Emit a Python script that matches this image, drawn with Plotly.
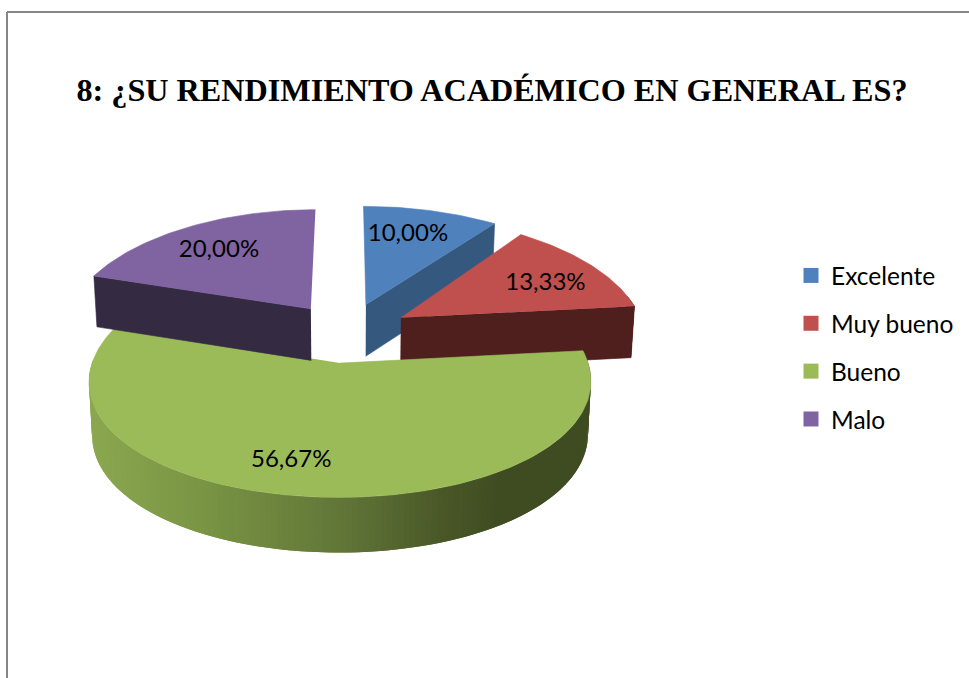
import numpy as np
import plotly.graph_objects as go

# ---- data ----
categories = ["Excelente", "Muy bueno", "Bueno", "Malo"]
values = [10.00, 13.33, 56.67, 20.00]
title_text = "8: ¿SU RENDIMIENTO ACADÉMICO EN GENERAL ES?"

# ---- styles ----
top_colors = ["#4f81bd", "#c0504d", "#9bbb59", "#8064a2"]
wall_colors = ["#35587f", "#4f1f1e", "#3f4c22", "#342a42"]
draw_order = [0, 1, 2, 3]
label_adjust = [(0.62, 2, -9), (0.62, 24, 0), (0.62, -30, 17), (0.62, -14, -6)]
# per-slice stretch of the rim, to follow the reference's 3D perspective
stretch_x = [1.055, 1.0, 0.977, 1.015]
stretch_y = [1.0, 1.0, 0.98, 1.0]

# ---- projection of the tilted disc onto the page (in pixels) ----
CX, CY, RX, RY, KX, KY, PULL, DEPTH = 347.0, 332.5, 244.0, 115.0, 0.15, 0.11, 0.26, 52.0


def project(u, v, low=False):
    sx = 1.0 / (1.0 - KX * v)
    sy = 1.0 / (1.0 - KY * v)
    x = CX + RX * u * sx * (0.988 if low else 1.0)
    y = CY + RY * v * sy + (DEPTH * sy ** 0.4 if low else 0.0)
    return x, y


def rim_color(x):
    stops_x = [90, 200, 340, 440, 500, 600]
    stops_r = [0x8c, 0x7a, 0x61, 0x4a, 0x3f, 0x3f]
    stops_g = [0xa8, 0x95, 0x76, 0x58, 0x4c, 0x4c]
    stops_b = [0x50, 0x44, 0x38, 0x28, 0x22, 0x22]
    return "rgb(%d,%d,%d)" % (np.interp(x, stops_x, stops_r),
                              np.interp(x, stops_x, stops_g),
                              np.interp(x, stops_x, stops_b))


def poly(xs, ys, color, lw=0.6):
    return go.Scatter(x=list(xs), y=list(ys), mode="lines", fill="toself",
                      fillcolor=color, line=dict(color=color, width=lw),
                      hoverinfo="skip", showlegend=False)


fig = go.Figure()
total = sum(values)
edges = np.cumsum([0.0] + values) / total * 2 * np.pi
label_texts = [("%.2f%%" % v).replace(".", ",") for v in values]

for i in draw_order:
    a0, a1 = edges[i], edges[i + 1]
    mid = (a0 + a1) / 2
    ou, ov = PULL * np.sin(mid), -PULL * np.cos(mid)
    th = np.linspace(a0, a1, max(8, int((a1 - a0) * 50)))
    sxi, syi = stretch_x[i], stretch_y[i]

    def rim(t):
        return ou + sxi * np.sin(t), ov - syi * np.cos(t)

    us, vs = rim(th)

    # outer rim, only where it faces the viewer; strips overlap to avoid seams
    step = th[1] - th[0]
    for t0 in th[:-1]:
        t1 = t0 + step
        if np.pi / 2 - 0.2 < t0 + step / 2 < 1.5 * np.pi + 0.02:
            t2 = min(t1 + step, a1)
            u0, v0 = rim(t0)
            u1, v1 = rim(t2)
            p = [project(u0, v0), project(u1, v1), project(u1, v1, True), project(u0, v0, True)]
            xs, ys = zip(*p)
            col = rim_color(np.mean(xs)) if i == 2 else wall_colors[i]
            fig.add_trace(poly(xs, ys, col, lw=0))

    # flat cut faces: the one on the viewer's side of each slice
    if i in (0, 1):
        ue, ve = rim(a1)
    elif i == 3:
        ue, ve = rim(a0)
    else:
        ue = None
    if ue is not None:
        p = [project(ou, ov), project(ue, ve), project(ue, ve, True), project(ou, ov, True)]
        xs, ys = zip(*p)
        fig.add_trace(poly(xs, ys, wall_colors[i]))

    # top face
    pts = [project(ou, ov)] + [project(u, v) for u, v in zip(us, vs)]
    xs, ys = zip(*pts)
    fig.add_trace(poly(xs, ys, top_colors[i]))

# labels
for i, txt in enumerate(label_texts):
    mid = (edges[i] + edges[i + 1]) / 2
    frac, dx, dy = label_adjust[i]
    ou, ov = PULL * np.sin(mid), -PULL * np.cos(mid)
    lx, ly = project(ou + frac * np.sin(mid), ov - frac * np.cos(mid))
    fig.add_trace(go.Scatter(x=[lx + dx], y=[ly + dy], mode="text", text=[txt],
                             textposition="middle center",
                             textfont=dict(family="Lato", size=24, color="#000000"),
                             hoverinfo="skip", showlegend=False))

# legend entries
for name, col in zip(categories, top_colors):
    fig.add_trace(go.Scatter(x=[None], y=[None], mode="markers", name=name, legendgroup=name,
                             marker=dict(symbol="square", size=15, color=col)))

fig.update_layout(
    width=969, height=678, autosize=False,
    margin=dict(l=0, r=0, t=0, b=0),
    paper_bgcolor="white", plot_bgcolor="white",
    xaxis=dict(range=[0, 969], visible=False, fixedrange=True),
    yaxis=dict(range=[678, 0], visible=False, fixedrange=True),
    title=dict(text="<b>%s</b>" % title_text, x=492 / 969, xanchor="center",
               y=1 - 90 / 678, yanchor="middle",
               font=dict(family="Liberation Serif", size=32.2, color="#000000")),
    legend=dict(x=791 / 969, xanchor="left", y=1 - 253 / 678, yanchor="top",
                bgcolor="rgba(0,0,0,0)", tracegroupgap=13,
                font=dict(family="Lato", size=24.5, color="#000000")),
    shapes=[
        dict(type="line", xref="x", yref="y", x0=7, y0=12, x1=969, y1=12,
             line=dict(color="#868686", width=2)),
        dict(type="line", xref="x", yref="y", x0=7, y0=12, x1=7, y1=678,
             line=dict(color="#868686", width=2)),
    ],
)
fig.write_html("out.html", config=dict(displayModeBar=False),
               post_script="document.body.style.margin='0';document.documentElement.style.overflow='hidden';")
